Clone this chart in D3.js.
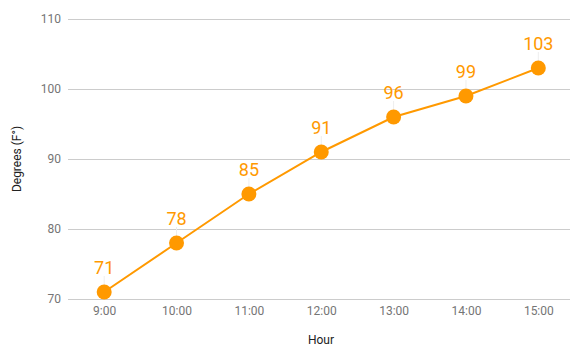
<!DOCTYPE html>
<html><head><meta charset="utf-8">
<script src="https://cdn.jsdelivr.net/npm/d3@7"></script>
<style>body{margin:0;background:#fff;}svg{display:block;font-family:Roboto,Arial,sans-serif;}</style>
</head><body>
<script>
const hours = ["9:00","10:00","11:00","12:00","13:00","14:00","15:00"];
const degrees = [71,78,85,91,96,99,103];
const yTicks = [70,80,90,100,110];
const xTitle = "Hour";
const yTitle = "Degrees (F°)";
const color = "#ff9900";

const W = 570, H = 350;
const svg = d3.select("body").append("svg").attr("width", W).attr("height", H);

const x = d3.scalePoint().domain(hours).range([68, 574.5]).padding(0.5);
const y = d3.scaleLinear().domain([70,110]).range([299,19]);

// gridlines
svg.append("g").selectAll("line").data(yTicks).join("line")
  .attr("x1", 68).attr("x2", 574).attr("y1", d=>y(d)).attr("y2", d=>y(d))
  .attr("stroke", "#cccccc").attr("stroke-width", 1).attr("shape-rendering","crispEdges");

// y axis
const ya = svg.append("g").attr("transform","translate(68,0)")
  .call(d3.axisLeft(y).tickValues(yTicks).tickSize(0).tickPadding(7));
ya.select(".domain").remove();
ya.selectAll("text").attr("font-size",12).attr("fill","#757575").attr("font-family","Roboto,Arial,sans-serif");

// x axis
const xa = svg.append("g").attr("transform","translate(0,299)")
  .call(d3.axisBottom(x).tickSize(0).tickPadding(7));
xa.select(".domain").remove();
xa.selectAll("text").attr("font-size",12).attr("fill","#757575").attr("font-family","Roboto,Arial,sans-serif");

// titles
svg.append("text").attr("x", 321).attr("y", 344).attr("text-anchor","middle")
  .attr("font-size",12).attr("fill","#222").text(xTitle);
svg.append("text").attr("transform","translate(21,159) rotate(-90)").attr("text-anchor","middle")
  .attr("font-size",12).attr("fill","#222").text(yTitle);

// line
svg.append("path").datum(degrees)
  .attr("d", d3.line().x((d,i)=>x(hours[i])).y(d=>y(d)))
  .attr("fill","none").attr("stroke",color).attr("stroke-width",2);

// stems
svg.append("g").selectAll("line").data(degrees).join("line")
  .attr("x1",(d,i)=>x(hours[i])).attr("x2",(d,i)=>x(hours[i]))
  .attr("y1",d=>y(d)-16).attr("y2",d=>y(d))
  .attr("stroke","#eeeeee").attr("stroke-width",1);

// points
svg.append("g").selectAll("circle").data(degrees).join("circle")
  .attr("cx",(d,i)=>x(hours[i])).attr("cy",d=>y(d)).attr("r",7.5).attr("fill",color);

// labels
svg.append("g").selectAll("text").data(degrees).join("text")
  .attr("x",(d,i)=>x(hours[i])).attr("y",d=>y(d)-18).attr("text-anchor","middle")
  .attr("font-size",18).attr("fill",color).text(d=>d);
</script>
</body></html>
